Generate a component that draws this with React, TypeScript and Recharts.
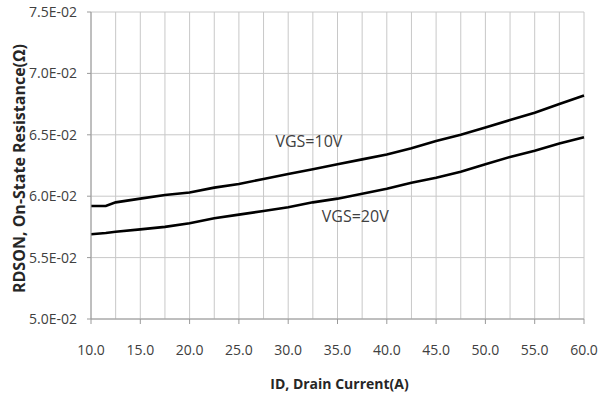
import React from 'react'
import { LineChart, Line, XAxis, YAxis, CartesianGrid, ReferenceDot } from 'recharts'

// drain current (A)
const current = [10, 11.5, 12.5, 15, 17.5, 20, 22.5, 25, 27.5, 30, 32.5, 35, 37.5, 40, 42.5, 45, 47.5, 50, 52.5, 55, 57.5, 60]
// on-state resistance (ohm)
const vgs10 = [0.0592, 0.0592, 0.0595, 0.0598, 0.0601, 0.0603, 0.0607, 0.0610, 0.0614, 0.0618, 0.0622, 0.0626, 0.0630, 0.0634, 0.0639, 0.0645, 0.0650, 0.0656, 0.0662, 0.0668, 0.0675, 0.0682]
const vgs20 = [0.0569, 0.0570, 0.0571, 0.0573, 0.0575, 0.0578, 0.0582, 0.0585, 0.0588, 0.0591, 0.0595, 0.0598, 0.0602, 0.0606, 0.0611, 0.0615, 0.0620, 0.0626, 0.0632, 0.0637, 0.0643, 0.0648]

const xTicks = [10, 12.5, 15, 17.5, 20, 22.5, 25, 27.5, 30, 32.5, 35, 37.5, 40, 42.5, 45, 47.5, 50, 52.5, 55, 57.5, 60]
const yTicks = [0.05, 0.055, 0.06, 0.065, 0.07, 0.075]

const data = current.map((c, i) => ({ id: c, v10: vgs10[i], v20: vgs20[i] }))

const FONT = '"Open Sans", sans-serif'
const GRID = '#c8c8c8'
const AXIS = '#9a9a9a'
const TEXT = '#404040'

const sci = (v: number) => {
  const [m, e] = v.toExponential(1).split('e')
  const n = Number(e)
  const sign = n < 0 ? '-' : '+'
  return `${m}E${sign}${String(Math.abs(n)).padStart(2, '0')}`
}

const XTick = (props: any) => {
  const { x, y, payload } = props
  const v = payload.value
  if (Math.abs(v % 5) > 1e-6) return null
  return (
    <g>
      <line x1={x} x2={x} y1={y} y2={y + 5} stroke={AXIS} />
      <text x={x} y={y + 36} textAnchor="middle" fontSize={14} fontFamily={FONT} fill={TEXT}>
        {v.toFixed(1)}
      </text>
    </g>
  )
}

const YTitle = (props: any) => {
  const vb = props.viewBox
  const cx = 19
  const cy = vb.y + vb.height / 2 + 3
  return (
    <text x={cx} y={cy} transform={`rotate(-90 ${cx} ${cy})`} textAnchor="middle" dominantBaseline="central"
      fontSize={16} fontWeight="bold" fontFamily={FONT} fill="#262626">
      RDSON, On-State Resistance(Ω)
    </text>
  )
}

const XTitle = (props: any) => {
  const vb = props.viewBox
  return (
    <text x={vb.x + vb.width / 2 + 2} y={389} textAnchor="middle" fontSize={14} fontWeight="bold" fontFamily={FONT} fill="#262626">
      ID, Drain Current(A)
    </text>
  )
}

export default function App() {
  return (
    <div style={{ position: 'absolute', left: 0, top: 0, width: 613, height: 402, background: '#fff' }}>
      <LineChart width={613} height={402} data={data} margin={{ top: 12, right: 29, left: 0, bottom: 0 }}>
        <CartesianGrid stroke={GRID} />
        <XAxis dataKey="id" type="number" domain={[10, 60]} ticks={xTicks} interval={0}
          tick={<XTick />} tickLine={false} tickSize={0} tickMargin={0} height={83}
          axisLine={{ stroke: AXIS }} label={<XTitle />} />
        <YAxis type="number" domain={[0.05, 0.075]} ticks={yTicks} interval={0} width={91}
          tickFormatter={sci} tickSize={4} tickMargin={10} tickLine={{ stroke: AXIS }}
          axisLine={{ stroke: AXIS }}
          tick={{ fontSize: 14, fontFamily: FONT, fill: TEXT }} label={<YTitle />} />
        <Line dataKey="v10" stroke="#000" strokeWidth={2.6} dot={false} isAnimationActive={false} />
        <Line dataKey="v20" stroke="#000" strokeWidth={2.6} dot={false} isAnimationActive={false} />
        <ReferenceDot x={32.1} y={0.0645} r={0} fill="none" stroke="none"
          label={{ value: 'VGS=10V', position: 'center', fontSize: 16, fontFamily: FONT, fill: TEXT }} />
        <ReferenceDot x={36.8} y={0.0584} r={0} fill="none" stroke="none"
          label={{ value: 'VGS=20V', position: 'center', fontSize: 16, fontFamily: FONT, fill: TEXT }} />
      </LineChart>
    </div>
  )
}
